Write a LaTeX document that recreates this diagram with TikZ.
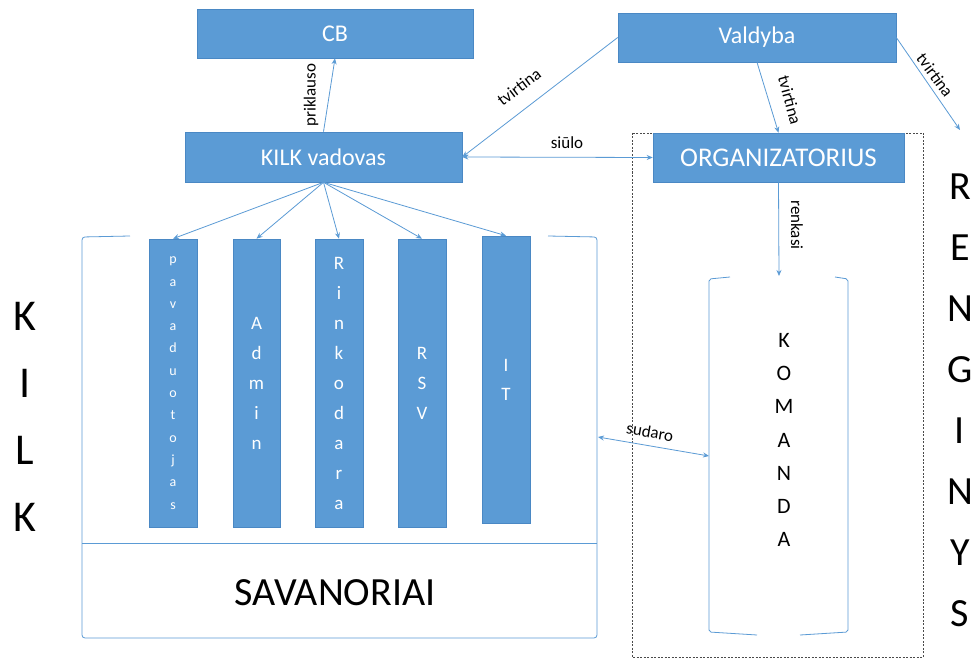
\documentclass[tikz,border=0pt]{standalone}
\usepackage{fontspec}
\setmainfont{Carlito}
\usetikzlibrary{arrows.meta}
\definecolor{boxblue}{HTML}{5B9BD5}
\definecolor{boxedge}{HTML}{4A88C4}
\definecolor{lineblue}{HTML}{5B9BD5}
\definecolor{dashgray}{HTML}{4A4A4A}
\begin{document}
\begin{tikzpicture}[x=1pt,y=-1pt,
  bluebox/.style={draw=boxedge, fill=boxblue, line width=0.6pt, inner sep=0pt, text=white},
  colbox/.style={bluebox, minimum width=48, minimum height=288, align=center},
  conn/.style={draw=lineblue, line width=0.8pt, -{Stealth[length=6pt,width=5pt]}},
  conntwo/.style={draw=lineblue, line width=0.8pt, {Stealth[length=6pt,width=5pt]}-{Stealth[length=6pt,width=5pt]}},
  bracketline/.style={draw=lineblue, line width=0.8pt},
  lbl/.style={font=\fontsize{17}{19}\selectfont, inner sep=1pt, text=black},
  bigletters/.style={align=center, inner sep=0pt, text=black}
]
\useasboundingbox (0,0) rectangle (980,658);
\fill[white] (0,0) rectangle (980,658);

% dashed event frame
\draw[dashgray, line width=0.8pt, dash pattern=on 2pt off 1.5pt] (632,133) rectangle (923,657);

% top boxes
\node[bluebox, minimum width=276, minimum height=49, font=\fontsize{24}{28}\selectfont] (cb) at (335,33.5) {CB};
\node[bluebox, minimum width=277, minimum height=50, font=\fontsize{24}{28}\selectfont] (kilk) at (323.5,157) {KILK vadovas};
\node[bluebox, minimum width=278, minimum height=49, font=\fontsize{24}{28}\selectfont] (valdyba) at (757,37.5) {Valdyba};
\node[bluebox, minimum width=251, minimum height=49, font=\fontsize{27}{30}\selectfont] (org) at (778.5,157.5) {ORGANIZATORIUS};

% KILK bracket with volunteers
\draw[bracketline, rounded corners=3pt] (130,236) -- (82,237) -- (82,638) -- (597,638) -- (597,237) -- (548,236);
\draw[bracketline] (82,543) -- (597,543);
\node[font=\fontsize{40}{44}\selectfont, inner sep=0pt] (sav) at (335,592.5) {SAVANORIAI};
\coordinate (kilkright) at (598,437);

% columns
\node[colbox, font=\fontsize{14}{22.3}\selectfont] (c1) at (173,383) {p\\a\\v\\a\\d\\u\\o\\t\\o\\j\\a\\s};
\node[colbox, minimum width=47, font=\fontsize{19}{30}\selectfont] (c2) at (256.5,383) {A\\d\\m\\i\\n};
\node[colbox, font=\fontsize{19}{30}\selectfont] (c3) at (339,383) {R\\i\\n\\k\\o\\d\\a\\r\\a};
\node[colbox, font=\fontsize{19}{30}\selectfont] (c4) at (422,383) {R\\S\\V};
\node[colbox, minimum height=287, font=\fontsize{19}{29}\selectfont] (c5) at (506,379.5) {I\\T};

% KOMANDA bracket
\draw[bracketline, rounded corners=2pt] (730,277) -- (709,279) -- (709,632) -- (757,635);
\draw[bracketline, rounded corners=2pt] (835,277) -- (848,279) -- (848,632) -- (800,635);
\node[bigletters, font=\fontsize{22}{33.3}\selectfont] (komanda) at (784,440) {K\\O\\M\\A\\N\\D\\A};
\coordinate (komtop) at (779,276);
\coordinate (komleft) at (709,456);

% side letters
\node[bigletters, font=\fontsize{44}{67}\selectfont] (kilkside) at (25,417) {K\\I\\L\\K};
\node[bigletters, font=\fontsize{40}{61}\selectfont] (renginys) at (960,400) {R\\E\\N\\G\\I\\N\\Y\\S};
\coordinate (rengtop) at (960,130);

% connectors
\draw[conn] (kilk.north) -- (cb.south);
\node[lbl, rotate=90] (lpriklauso) at (311,95) {priklauso};

\draw[conn] (valdyba.west) -- (kilk.east);
\node[lbl, rotate=37] (ltv1) at (519,87) {tvirtina};

\draw[conn] (valdyba.south) -- (org.north);
\node[lbl, rotate=-75] (ltv2) at (790,100) {tvirtina};

\draw[conn] (valdyba.east) -- (rengtop);
\node[lbl, rotate=-54] (ltv3) at (935,75) {tvirtina};

\draw[conntwo] (kilk.east) -- (org.west);
\node[lbl] (lsiulo) at (567,143) {siūlo};

\draw[conn] (org.south) -- (komtop);
\node[lbl, rotate=-90] (lrenkasi) at (797,225) {renkasi};

\draw[conntwo] (kilkright) -- (komleft);
\node[lbl, rotate=-10] (lsudaro) at (650,432) {sudaro};

\draw[conn] (kilk.south) -- (c1.north);
\draw[conn] (kilk.south) -- (c2.north);
\draw[conn] (kilk.south) -- (c3.north);
\draw[conn] (kilk.south) -- (c4.north);
\draw[conn] (kilk.south) -- (c5.north);
\end{tikzpicture}
\end{document}
